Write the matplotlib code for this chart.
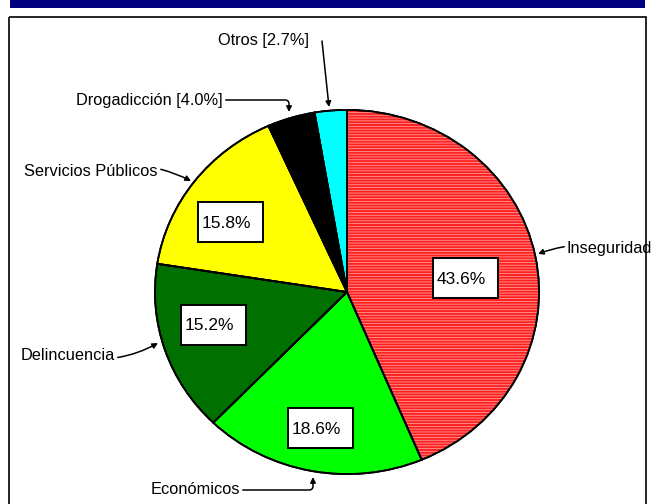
import matplotlib.pyplot as plt
from matplotlib.patches import Rectangle

plt.rcParams['font.family'] = ['Liberation Sans', 'DejaVu Sans']

categorias = ['Inseguridad', 'Económicos', 'Delincuencia', 'Servicios Públicos',
              'Drogadicción', 'Otros']
valores = [43.6, 18.6, 15.2, 15.8, 4.0, 2.7]
colores = ['#ff2020', '#00ff00', '#007000', '#ffff00', '#000000', '#00ffff']

W, H = 655, 504
fig = plt.figure(figsize=(W / 100, H / 100), dpi=100)

# pie axes, slightly wider than tall
cx, cy, rx, ry = 347, 292, 193, 183
pie_ax = fig.add_axes([(cx - rx) / W, (H - cy - ry) / H, 2 * rx / W, 2 * ry / H])
plt.rcParams['hatch.linewidth'] = 0.6
wedges, _ = pie_ax.pie(valores, colors=colores, startangle=90, counterclock=False,
                       radius=1, wedgeprops=dict(edgecolor='black', linewidth=1.3))
# fine white stripes on the red wedge
hw, _ = pie_ax.pie(valores[:1] + [sum(valores[1:])], colors=['none', 'none'],
                   startangle=90, counterclock=False, radius=1,
                   wedgeprops=dict(linewidth=0))
hw[0].set_hatch('------')
hw[0].set_edgecolor('#ff9a9a')
hw[1].set_visible(False)
pie_ax.pie(valores, colors=['none'] * 6, startangle=90, counterclock=False, radius=1,
           wedgeprops=dict(edgecolor='black', linewidth=1.3))
pie_ax.set_aspect('auto')
pie_ax.set_xlim(-1.005, 1.005)
pie_ax.set_ylim(-1.005, 1.005)
pie_ax.axis('off')

# overlay axes in pixel coordinates (y down)
ov = fig.add_axes([0, 0, 1, 1])
ov.set_zorder(3)
ov.set_xlim(0, W)
ov.set_ylim(H, 0)
ov.axis('off')
ov.add_patch(Rectangle((10, 0), 635, 8, color='#000080', lw=0))
ov.add_patch(Rectangle((9, 17), 637, 495, fill=False, ec='black', lw=1.2))

# percentage boxes inside the wedges
cajas = {'Inseguridad': (465, 278), 'Económicos': (320, 428),
         'Delincuencia': (213, 325), 'Servicios Públicos': (230, 222)}
for cat, v in zip(categorias, valores):
    if cat in cajas:
        x, y = cajas[cat]
        ov.add_patch(Rectangle((x - 32.5, y - 20), 65, 40, fc='white', ec='black', lw=1.4))
        ov.text(x - 4, y + 1, f'{v:.1f}%', ha='center', va='center', fontsize=12.5)

ap = dict(arrowstyle='-|>', color='black', lw=1.1, mutation_scale=8, shrinkA=0, shrinkB=0)
fs = 11.8

ov.annotate('Inseguridad', xy=(538, 254), xytext=(567, 248), ha='left', va='center',
            fontsize=fs, arrowprops=dict(ap, connectionstyle='arc3,rad=0.15'))
ov.annotate('Económicos', xy=(313, 477), xytext=(240, 490), ha='right', va='center',
            fontsize=fs, arrowprops=dict(ap, connectionstyle='angle,angleA=0,angleB=90,rad=4'))
ov.annotate('Delincuencia', xy=(158, 343), xytext=(115, 355), ha='right', va='center',
            fontsize=fs, arrowprops=dict(ap, connectionstyle='arc3,rad=0.2'))
ov.annotate('Servicios Públicos', xy=(191, 181), xytext=(158, 171), ha='right', va='center',
            fontsize=fs, arrowprops=dict(ap, connectionstyle='arc3,rad=-0.2'))
ov.annotate(f'Drogadicción [{valores[4]:.1f}%]', xy=(289, 112), xytext=(223, 100),
            ha='right', va='center', fontsize=fs,
            arrowprops=dict(ap, connectionstyle='angle,angleA=0,angleB=90,rad=4'))
ov.text(309, 40, f'Otros [{valores[5]:.1f}%]', ha='right', va='center', fontsize=fs)
ov.annotate('', xy=(329, 107), xytext=(322, 41), arrowprops=dict(ap))

fig.savefig('out.png', dpi=100)
